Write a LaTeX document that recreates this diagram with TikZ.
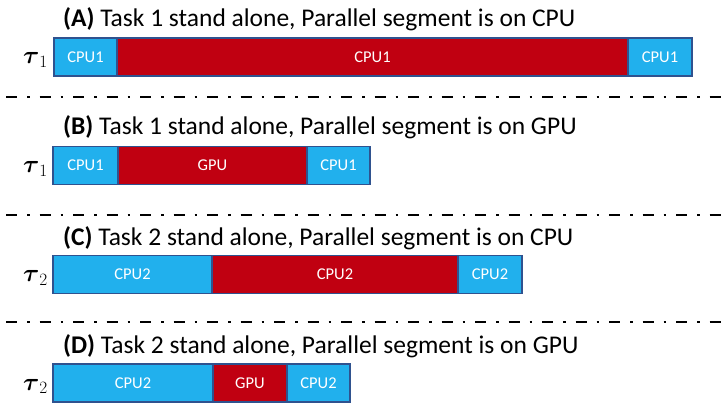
\documentclass[tikz,border=0pt]{standalone}
\usepackage{amsmath}
\usepackage{fontspec}
\setmainfont{Carlito}
\definecolor{cpublue}{RGB}{33,176,237}
\definecolor{parred}{RGB}{192,0,17}
\definecolor{segborder}{RGB}{47,82,143}
\begin{document}
\begin{tikzpicture}[x=1pt,y=-1pt,
  seg/.style={draw=segborder, line width=1.2pt, minimum height=38pt,
    inner sep=0pt, outer sep=0pt, anchor=west, text=white,
    font=\fontsize{16.5}{18}\selectfont},
  cpuseg/.style={seg, fill=cpublue, minimum width=#1},
  redseg/.style={seg, fill=parred, minimum width=#1},
  title/.style={anchor=base west, inner sep=0pt,
    font=\fontsize{25.5}{28}\selectfont},
  task/.style={anchor=base east, inner sep=0pt,
    font=\fontsize{27}{30}\selectfont},
  divider/.style={line width=2.7pt,
    dash pattern=on 11pt off 10pt on 2.5pt off 10pt}]
\useasboundingbox (0,0) rectangle (727,403);

% (A) task 1, parallel part on the CPU
\node[title] (tA) at (63,27) {\textbf{(A)} Task 1 stand alone, Parallel segment is on CPU};
\node[task] (kA) at (48,64) {$\boldsymbol{\tau}_{1}$};
\node[cpuseg=63pt] (a1) at (54,57) {CPU1};
\node[redseg=511pt] (a2) at (a1.east) {CPU1};
\node[cpuseg=64pt] (a3) at (a2.east) {CPU1};

\coordinate (d1s) at (6,97);
\coordinate (d1e) at (727,97);
\draw[divider] (d1s) -- (d1e);

% (B) task 1, parallel part on the GPU
\node[title] (tB) at (63,135) {\textbf{(B)} Task 1 stand alone, Parallel segment is on GPU};
\node[task] (kB) at (48,172.5) {$\boldsymbol{\tau}_{1}$};
\node[cpuseg=65pt] (b1) at (53,165.5) {CPU1};
\node[redseg=189pt] (b2) at (b1.east) {GPU};
\node[cpuseg=63pt] (b3) at (b2.east) {CPU1};

\coordinate (d2s) at (6,215);
\coordinate (d2e) at (727,215);
\draw[divider] (d2s) -- (d2e);

% (C) task 2, parallel part on the CPU
\node[title] (tC) at (63,245) {\textbf{(C)} Task 2 stand alone, Parallel segment is on CPU};
\node[task] (kC) at (48,281.5) {$\boldsymbol{\tau}_{2}$};
\node[cpuseg=159pt] (c1) at (53,274.5) {CPU2};
\node[redseg=246pt] (c2) at (c1.east) {CPU2};
\node[cpuseg=64pt] (c3) at (c2.east) {CPU2};

\coordinate (d3s) at (6,322);
\coordinate (d3e) at (727,322);
\draw[divider] (d3s) -- (d3e);

% (D) task 2, parallel part on the GPU
\node[title] (tD) at (63,353) {\textbf{(D)} Task 2 stand alone, Parallel segment is on GPU};
\node[task] (kD) at (48,390) {$\boldsymbol{\tau}_{2}$};
\node[cpuseg=160pt] (e1) at (53,383) {CPU2};
\node[redseg=74pt] (e2) at (e1.east) {GPU};
\node[cpuseg=63pt] (e3) at (e2.east) {CPU2};
\end{tikzpicture}
\end{document}
